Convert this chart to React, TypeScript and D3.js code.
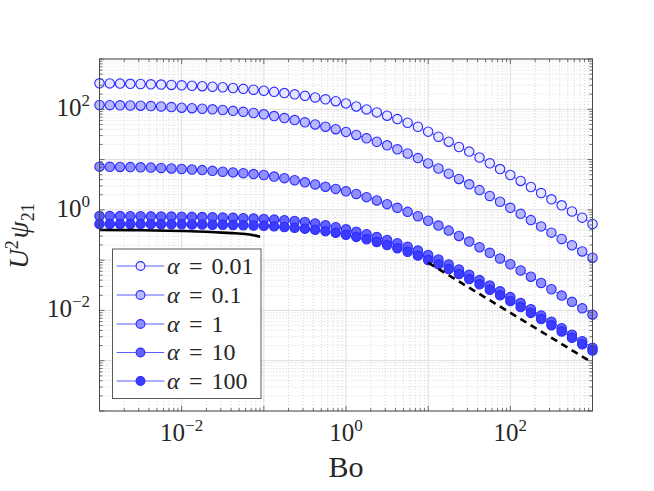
import * as d3 from "d3";

// Bond number samples (8 per decade, 1e-3 .. 1e3)
const BO = [
  0.001, 0.001334, 0.001778, 0.002371, 0.003162, 0.004217, 0.005623, 0.007499,
  0.01, 0.01334, 0.01778, 0.02371, 0.03162, 0.04217, 0.05623, 0.07499,
  0.1, 0.1334, 0.1778, 0.2371, 0.3162, 0.4217, 0.5623, 0.7499,
  1, 1.334, 1.778, 2.371, 3.162, 4.217, 5.623, 7.499,
  10, 13.34, 17.78, 23.71, 31.62, 42.17, 56.23, 74.99,
  100, 133.4, 177.8, 237.1, 316.2, 421.7, 562.3, 749.9, 1000,
];

// U^2 psi_21, one array per alpha
const PSI_A001 = [
  329, 327, 324, 321, 318, 314, 310, 305, 300, 294, 288, 281, 274, 265, 255, 245,
  234, 222, 210, 198, 185, 172, 158, 145, 131, 114, 99.5, 86.7, 74.6, 63.8, 54.0, 44.9,
  35.9, 28.5, 22.7, 17.8, 14.4, 11.0, 8.43, 6.47, 4.93, 3.76, 2.85, 2.16, 1.62, 1.23, 0.929, 0.7, 0.524,
];
const PSI_A01 = [
  121.6, 120.8, 120.0, 119.1, 118.0, 116.1, 113.8, 110.9, 107.6, 105.2, 102.6, 99.8, 96.8, 93.1, 88.9, 84.3,
  79.4, 73.3, 67.0, 61.0, 55.1, 50.0, 45.1, 40.2, 35.5, 30.9, 26.5, 22.6, 19.2, 16.0, 13.2, 10.7,
  8.39, 6.65, 5.25, 4.12, 3.22, 2.47, 1.89, 1.45, 1.10, 0.832, 0.625, 0.469, 0.352, 0.264, 0.198, 0.149, 0.112,
];
const PSI_A1 = [
  7.23, 7.19, 7.14, 7.08, 7.01, 6.92, 6.81, 6.67, 6.50, 6.34, 6.17, 5.96, 5.74, 5.56, 5.36, 5.15,
  4.93, 4.60, 4.27, 3.89, 3.53, 3.20, 2.89, 2.61, 2.34, 2.07, 1.79, 1.54, 1.30, 1.10, 0.912, 0.748,
  0.607, 0.488, 0.387, 0.303, 0.234, 0.181, 0.140, 0.108, 0.0828, 0.0624, 0.0469, 0.0352, 0.0264, 0.0197, 0.0148, 0.011, 0.00824,
];
const PSI_A10 = [
  0.755, 0.753, 0.752, 0.75, 0.746, 0.743, 0.74, 0.736, 0.731, 0.726, 0.719, 0.713, 0.705, 0.695, 0.684, 0.671,
  0.658, 0.64, 0.621, 0.601, 0.575, 0.537, 0.495, 0.452, 0.41, 0.368, 0.327, 0.288, 0.252, 0.217, 0.185, 0.155,
  0.127, 0.103, 0.0822, 0.0653, 0.0514, 0.0402, 0.0312, 0.024, 0.0184, 0.014, 0.0106, 0.00794, 0.00594, 0.00444, 0.0033, 0.00245, 0.00182,
];
const PSI_A100 = [
  0.524, 0.524, 0.522, 0.522, 0.521, 0.52, 0.519, 0.518, 0.515, 0.513, 0.511, 0.507, 0.504, 0.499, 0.494, 0.489,
  0.482, 0.47, 0.456, 0.441, 0.423, 0.402, 0.377, 0.349, 0.321, 0.29, 0.26, 0.23, 0.2, 0.173, 0.147, 0.123,
  0.101, 0.0824, 0.0665, 0.0532, 0.0422, 0.0331, 0.0258, 0.02, 0.0154, 0.0117, 0.00893, 0.00676, 0.00509, 0.00382, 0.00286, 0.00213, 0.00159,
];

const ALPHA_LABELS = ["0.01", "0.1", "1", "10", "100"];
const FILLS = ["#e6e6ff", "#b9b9ff", "#8f8fff", "#6262ff", "#3c3cff"];

// small-Bo limit (solid) and large-Bo asymptote (dashed)
const SMALL_BO = [0.001, 0.003, 0.01, 0.02, 0.031, 0.045, 0.06, 0.075, 0.09];
const SMALL_PSI = [0.398, 0.394, 0.38, 0.366, 0.352, 0.342, 0.331, 0.313, 0.293];
const LARGE_BO = [10, 1000];
const LARGE_PSI = [0.089, 0.00091];

const X_TICKS = [0.01, 1, 100];
const X_TICK_EXP = ["\u22122", "0", "2"];
const Y_TICKS = [100, 1, 0.01];
const Y_TICK_EXP = ["2", "0", "\u22122"];

const W = 654;
const H = 491;
const left = 99.5, right = 592.5, top = 59, bottom = 411;
const FONT = "'Liberation Serif', 'Times New Roman', serif";
const INK = "#262626";
const EDGE = "#2b2bff";
const LINE = "#5c5cff";

const isDecade = (v: number) => Math.abs(Math.log10(v) - Math.round(Math.log10(v))) < 1e-6;

export default function App() {
  const x = d3.scaleLog().domain([1e-3, 1e3]).range([left, right]);
  const y = d3.scaleLog().domain([1e-4, 1e3]).range([bottom, top]);

  const series = [PSI_A001, PSI_A01, PSI_A1, PSI_A10, PSI_A100];
  const xTicks = x.ticks();
  const yTicks = y.ticks();

  const line = d3.line<[number, number]>().x((d) => x(d[0])).y((d) => y(d[1]));
  const smooth = d3.line<[number, number]>().x((d) => x(d[0])).y((d) => y(d[1])).curve(d3.curveMonotoneX);

  const legendRows = [266, 295, 324, 352.5, 381];

  return (
    <div style={{ position: "absolute", left: 0, top: 0 }}>
      <svg width={W} height={H} style={{ display: "block", background: "#fff" }}>
        <rect x={left} y={top} width={right - left} height={bottom - top} fill="#fff" />

        {/* minor grid */}
        {xTicks.filter((t) => !isDecade(t)).map((t, i) => (
          <line key={"xm" + i} x1={x(t)} x2={x(t)} y1={top} y2={bottom}
            stroke="#c8c8c8" strokeWidth={0.7} strokeDasharray="1,2" />
        ))}
        {yTicks.filter((t) => !isDecade(t)).map((t, i) => (
          <line key={"ym" + i} x1={left} x2={right} y1={y(t)} y2={y(t)}
            stroke="#c8c8c8" strokeWidth={0.7} strokeDasharray="1,2" />
        ))}
        {/* major grid */}
        {xTicks.filter(isDecade).map((t, i) => (
          <line key={"xM" + i} x1={x(t)} x2={x(t)} y1={top} y2={bottom} stroke="#dedede" strokeWidth={1} />
        ))}
        {yTicks.filter(isDecade).map((t, i) => (
          <line key={"yM" + i} x1={left} x2={right} y1={y(t)} y2={y(t)} stroke="#dedede" strokeWidth={1} />
        ))}

        {/* data */}
        {series.map((vals, si) => {
          const pts = BO.map((b, i) => [b, vals[i]] as [number, number]);
          return (
            <g key={"s" + si}>
              <path d={line(pts) || ""} fill="none" stroke={LINE} strokeWidth={1} />
              {pts.map((p, i) => (
                <circle key={i} cx={x(p[0])} cy={y(p[1])} r={4.7}
                  fill={FILLS[si]} stroke={EDGE} strokeWidth={1.1} />
              ))}
            </g>
          );
        })}

        <path d={smooth(SMALL_BO.map((b, i) => [b, SMALL_PSI[i]] as [number, number])) || ""}
          fill="none" stroke="#000" strokeWidth={2.6} />
        <path d={line(LARGE_BO.map((b, i) => [b, LARGE_PSI[i]] as [number, number])) || ""}
          fill="none" stroke="#000" strokeWidth={2.6} strokeDasharray="7,5" />

        {/* axes box and ticks */}
        <rect x={left} y={top} width={right - left} height={bottom - top} fill="none" stroke="#4a4a4a" strokeWidth={1} />
        {xTicks.map((t, i) => {
          const len = isDecade(t) ? 5 : 3;
          return (
            <g key={"xt" + i} stroke="#4a4a4a" strokeWidth={0.8}>
              <line x1={x(t)} x2={x(t)} y1={bottom} y2={bottom - len} />
              <line x1={x(t)} x2={x(t)} y1={top} y2={top + len} />
            </g>
          );
        })}
        {yTicks.map((t, i) => {
          const len = isDecade(t) ? 5 : 3;
          return (
            <g key={"yt" + i} stroke="#4a4a4a" strokeWidth={0.8}>
              <line x1={left} x2={left + len} y1={y(t)} y2={y(t)} />
              <line x1={right} x2={right - len} y1={y(t)} y2={y(t)} />
            </g>
          );
        })}

        {/* tick labels */}
        {X_TICKS.map((t, i) => (
          <text key={"xl" + i} x={x(t)} y={441} textAnchor="middle" fontFamily={FONT} fontSize={25} fill={INK}>
            10<tspan dy={-10} fontSize={17}>{X_TICK_EXP[i]}</tspan>
          </text>
        ))}
        {Y_TICKS.map((t, i) => (
          <text key={"yl" + i} x={90} y={y(t) + 7} textAnchor="end" fontFamily={FONT} fontSize={25} fill={INK}>
            10<tspan dy={-10} fontSize={17}>{Y_TICK_EXP[i]}</tspan>
          </text>
        ))}

        {/* axis labels */}
        <text x={(left + right) / 2} y={477} textAnchor="middle" fontFamily={FONT} fontSize={30} fill={INK}>Bo</text>
        <text transform={`translate(28,236) rotate(-90)`} textAnchor="middle" fontFamily={FONT} fontSize={27} fill={INK}>
          <tspan fontStyle="italic">U</tspan>
          <tspan dy={-10} fontSize={18}>2</tspan>
          <tspan dy={10} dx={2} fontStyle="italic">ψ</tspan>
          <tspan dy={6} fontSize={18}>21</tspan>
        </text>

        {/* legend */}
        <rect x={112.5} y={249} width={148.5} height={149.5} fill="#fff" stroke="#5a5a5a" strokeWidth={1} />
        {ALPHA_LABELS.map((lab, i) => {
          const cy = legendRows[i];
          return (
            <g key={"lg" + i}>
              <line x1={116.7} x2={164.3} y1={cy} y2={cy} stroke={LINE} strokeWidth={1} />
              <circle cx={140.5} cy={cy} r={4.4} fill={FILLS[i]} stroke={EDGE} strokeWidth={1.1} />
              <text y={cy + 7.5} fontFamily={FONT} fontSize={24} fill={INK}>
                <tspan x={167} fontStyle="italic">α</tspan>
                <tspan x={189}>=</tspan>
                <tspan x={211.5}>{lab}</tspan>
              </text>
            </g>
          );
        })}
      </svg>
    </div>
  );
}
